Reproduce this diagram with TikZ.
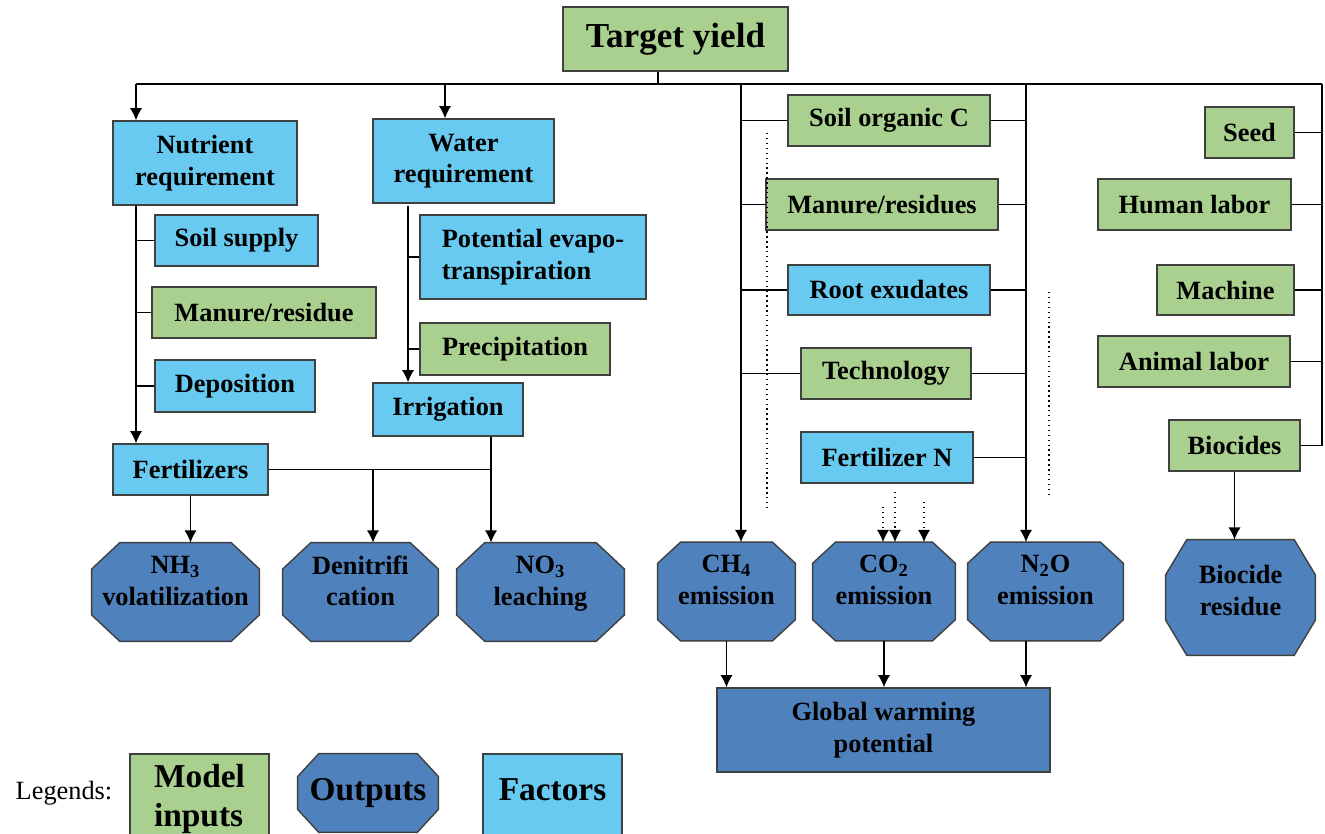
\documentclass[tikz,border=0pt]{standalone}
\usepackage{fontspec}
\setmainfont{Liberation Serif}
\usepackage{color}
\usepackage{tikz}
\usetikzlibrary{arrows.meta,backgrounds}
\definecolor{inputgreen}{RGB}{169,208,142}
\definecolor{factorblue}{RGB}{104,202,240}
\definecolor{outputblue}{RGB}{79,129,189}
% octagon behind an output node: name, chamfer x, chamfer y
\newcommand{\octfill}[3]{%
  \filldraw[octo] ([xshift=#2]#1.north west) -- ([xshift=-#2]#1.north east)
    -- ([yshift=-#3]#1.north east) -- ([yshift=#3]#1.south east)
    -- ([xshift=-#2]#1.south east) -- ([xshift=#2]#1.south west)
    -- ([yshift=#3]#1.south west) -- ([yshift=-#3]#1.north west) -- cycle;}

\begin{document}
\begin{tikzpicture}[x=0.02cm,y=-0.02cm,
  every node/.style={font=\bfseries\fontsize{15}{18}\selectfont, inner sep=2pt},
  box/.style={draw=black!75, line width=0.8pt, rectangle, align=center},
  input/.style={box, fill=inputgreen},
  factor/.style={box, fill=factorblue},
  outbox/.style={box, fill=outputblue},
  output/.style={align=center, minimum height=1.96cm},
  raised/.style={text depth=#1},
  octo/.style={draw=black!75, line width=0.8pt, fill=outputblue},
  link/.style={line width=0.8pt},
  >={Latex[length=7pt,width=7pt]}]
  \begin{scope}[on background layer]
    \fill[white] (0,0) rectangle (1325,834);
  \end{scope}
  \useasboundingbox (0,0) rectangle (1325,834);

	\node[input, minimum width=4.5cm, minimum height=1.28cm, font=\bfseries\fontsize{20}{24}\selectfont] (target) at (675.5,39) {Target yield};

	\node[factor, minimum width=3.68cm, minimum height=1.68cm] (nutr) at (205,163) {Nutrient\\requirement};
	\node[factor, minimum width=3.62cm, minimum height=1.68cm] (water) at (463.5,161) {Water\\requirement};
	\node[factor, minimum width=3.26cm, minimum height=1.02cm] (soil) at (236.5,240.5) {Soil supply};
	\node[input, minimum width=4.48cm, minimum height=1.02cm] (manres) at (264,312.5) {Manure/residue};
	\node[factor, minimum width=3.2cm, minimum height=1.04cm] (depo) at (235,386) {Deposition};
	\node[factor, minimum width=3.1cm, minimum height=1.02cm] (fert) at (190.5,469.5) {Fertilizers};
	\node[factor, minimum width=4.52cm, minimum height=1.68cm, align=left] (pet) at (533,257) {Potential evapo-\\transpiration};
	\node[input, minimum width=3.8cm, minimum height=1.04cm] (precip) at (515,349) {Precipitation};
	\node[factor, minimum width=3cm, minimum height=1.06cm] (irrig) at (448,409.5) {Irrigation};

	\node[input, minimum width=4.04cm, minimum height=1.02cm] (soc) at (889,120.5) {Soil organic C};
	\node[input, minimum width=4.64cm, minimum height=1.02cm] (manres2) at (882,204.5) {Manure/residues};
	\node[factor, minimum width=4.04cm, minimum height=1cm] (root) at (889,290) {Root exudates};
	\node[input, minimum width=3.4cm, minimum height=1.02cm] (tech) at (886,373.5) {Technology};
	\node[factor, minimum width=3.44cm, minimum height=1.02cm] (fertn) at (887,457.5) {Fertilizer N};

	\node[input, minimum width=1.78cm, minimum height=1.02cm] (seed) at (1249.5,132.5) {Seed};
	\node[input, minimum width=3.86cm, minimum height=1.02cm] (human) at (1194.5,204.5) {Human labor};
	\node[input, minimum width=2.74cm, minimum height=1cm] (machine) at (1225.5,290) {Machine};
	\node[input, minimum width=3.84cm, minimum height=1.02cm] (animal) at (1194,361.5) {Animal labor};
	\node[input, minimum width=2.62cm, minimum height=1.02cm] (biocides) at (1234.5,445.5) {Biocides};

	\node[output, raised=13pt, minimum width=3.34cm] (nh3) at (175.5,592) {NH\textsubscript{3}\\volatilization};
	\node[output, raised=13pt, minimum width=3.1cm] (deni) at (360.5,592) {Denitrifi\\cation};
	\node[output, raised=13pt, minimum width=3.34cm] (no3) at (540.5,592) {NO\textsubscript{3}\\leaching};
	\node[output, raised=13pt, minimum width=2.74cm] (ch4) at (726.5,591.5) {CH\textsubscript{4}\\emission};
	\node[output, raised=13pt, minimum width=2.84cm] (co2) at (884,591.5) {CO\textsubscript{2}\\emission};
	\node[output, raised=13pt, minimum width=3.1cm] (n2o) at (1045.5,591.5) {N\textsubscript{2}O\\emission};
	\node[output, raised=8pt, minimum width=2.98cm, minimum height=2.3cm] (bres) at (1240.5,597.5) {Biocide\\residue};
	\node[outbox, minimum width=6.66cm, minimum height=1.68cm] (gwp) at (883.5,730) {Global warming\\potential};

	\node[font=\fontsize{15}{18}\selectfont] (legend) at (64,793) {Legends:};
	\node[input, minimum width=2.78cm, minimum height=1.8cm, align=left, font=\bfseries\fontsize{19}{22.7}\selectfont] (leginput) at (199.5,799) {Model\\inputs};
	\node[output, minimum width=2.8cm, minimum height=1.56cm, font=\bfseries\fontsize{19}{22.7}\selectfont] (legoutput) at (368,793) {Outputs};
	\node[factor, raised=11pt, minimum width=2.78cm, minimum height=1.8cm, font=\bfseries\fontsize{19}{22.7}\selectfont] (legfactor) at (552.5,799) {Factors};

	\begin{scope}[on background layer]
	  \foreach \n in {nh3,deni,no3}{
	     \octfill{\n}{16pt}{15pt}
	  }
	  \foreach \n in {ch4,co2,n2o}{
	     \octfill{\n}{13pt}{12pt}
	  }
	  \octfill{bres}{12pt}{20pt}
	  \octfill{legoutput}{12pt}{13pt}
	\end{scope}

	\coordinate (ty) at (658,84);
	\coordinate (busL) at (136,84);
	\coordinate (busW) at (445,84);
	\coordinate (busC) at (741,84);
	\coordinate (busN) at (1026,84);
	\coordinate (busR) at (1322,84);
	\coordinate (wlink) at (408,206);
	\coordinate (fj) at (491,469.5);
	\coordinate (dj) at (373,469.5);
	\coordinate (dotCa) at (767,133);
	\coordinate (dotCb) at (767,508);
	\coordinate (dotNa) at (1049,292);
	\coordinate (dotNb) at (1049,498);
	\coordinate (co2a) at (883,507);
	\coordinate (co2b) at (895,492);
	\coordinate (co2c) at (924,502);

	\draw[link] (target.south -| ty) -- (ty);
	\draw[line width=1.2pt] (busL) -- (busR);
	\draw[link,->] (busL) -- (busL |- nutr.north);
	\draw[link,->] (busW) -- (busW |- water.north);

	\draw[link,->] (busL |- nutr.south) -- (busL |- fert.north);
	\foreach \n in {soil,manres,depo}{
	   \draw[link] (busL |- \n.west) -- (\n.west);
	}
	\draw[link,->] (wlink) -- (wlink |- irrig.north);
	\foreach \n in {pet,precip}{
	   \draw[link] (wlink |- \n.west) -- (\n.west);
	}
	\draw[link] (fert.east) -- (fj);
	\draw[link] (fj |- irrig.south) -- (fj);
	\draw[link,->] (fj) -- (fj |- no3.north);
	\draw[link,->] (dj) -- (dj |- deni.north);
	\draw[link,->] (fert.south) -- (fert.south |- nh3.north);

	\draw[link,->] (busC) -- (busC |- ch4.north);
	\draw[link,->] (busN) -- (busN |- n2o.north);
	\foreach \n in {soc,manres2,root,tech}{
	   \draw[link] (busC |- \n.west) -- (\n.west);
	}
	\foreach \n in {soc,manres2,root,tech,fertn}{
	   \draw[link] (\n.east) -- (busN |- \n.east);
	}
	\draw[link,dotted] (dotCa) -- (dotCb);
	\draw[link,dotted] (dotNa) -- (dotNb);
	\foreach \c in {co2a,co2b,co2c}{
	   \draw[link,dotted,->] (\c) -- (\c |- co2.north);
	}

	\draw[link] (busR) -- (busR |- biocides.east);
	\foreach \n in {seed,human,machine,animal,biocides}{
	   \draw[link] (\n.east) -- (busR |- \n.east);
	}
	\draw[link,->] (biocides.south) -- (biocides.south |- bres.north);

	\draw[link,->] (ch4.south) -- (ch4.south |- gwp.north);
	\draw[link,->] (co2.south) -- (co2.south |- gwp.north);
	\draw[link,->] (busN |- n2o.south) -- (busN |- gwp.north);
\end{tikzpicture}
\end{document}
